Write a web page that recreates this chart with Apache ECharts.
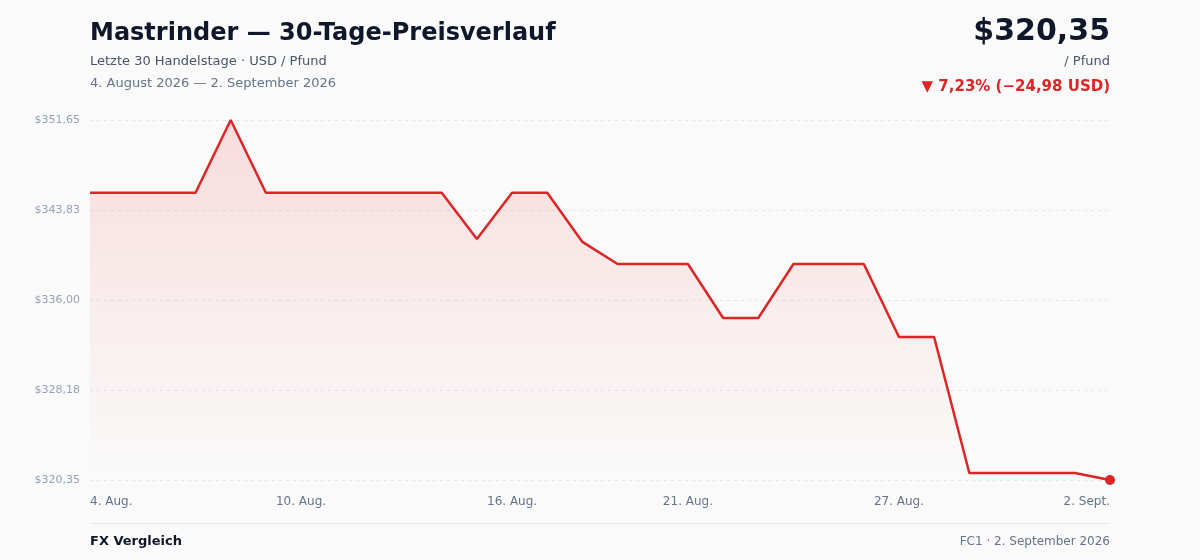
<!DOCTYPE html>
<html>
<head>
<meta charset="utf-8">
<script src="https://cdn.jsdelivr.net/npm/echarts@6/dist/echarts.min.js"></script>
<style>
html,body{margin:0;padding:0;background:#fafafa;}
#c{width:1200px;height:560px;}
</style>
</head>
<body>
<div id="c"></div>
<script>
const categories = ["4. Aug.","5. Aug.","6. Aug.","7. Aug.","8. Aug.","9. Aug.","10. Aug.","11. Aug.","12. Aug.","13. Aug.",
  "14. Aug.","15. Aug.","16. Aug.","17. Aug.","18. Aug.","19. Aug.","20. Aug.","21. Aug.","22. Aug.","23. Aug.",
  "24. Aug.","25. Aug.","26. Aug.","27. Aug.","28. Aug.","29. Aug.","30. Aug.","31. Aug.","1. Sept.","2. Sept."];
const prices = [345.33,345.33,345.33,345.33,351.65,345.33,345.33,345.33,345.33,345.33,
  345.33,341.30,345.33,345.33,341.05,339.13,339.13,339.13,334.44,334.44,
  339.13,339.13,339.13,332.78,332.78,320.96,320.96,320.96,320.96,320.35];
const shownLabelIdx = [0,6,12,17,23,29];
const yTickLabels = ["$320,35","$328,18","$336,00","$343,83","$351,65"];
const yMin = 320.35, yMax = 351.65;

const last = prices.length - 1;
const chart = echarts.init(document.getElementById('c'), null, {renderer:'canvas'});
const font = 'DejaVu Sans';
function t(text, pos, top, size, weight, color){
  return Object.assign({text:text, top:top, padding:0, textStyle:{fontFamily:font,fontSize:size,fontWeight:weight,color:color}}, pos);
}
chart.setOption({
  backgroundColor:'#fafafa',
  animation:false,
  title:[
    t('Mastrinder — 30-Tage-Preisverlauf', {left:90}, 22, 24, 'bold', '#0f172a'),
    t('Letzte 30 Handelstage · USD / Pfund', {left:90}, 55, 13, 'normal', '#475569'),
    t('4. August 2026 — 2. September 2026', {left:90}, 77, 13, 'normal', '#64748b'),
    t('$320,35', {right:90}, 17, 30, 'bold', '#0f172a'),
    t('/ Pfund', {right:90}, 55, 13, 'normal', '#475569'),
    t('▼ 7,23% (−24,98 USD)', {right:90}, 80, 15, 'bold', '#dc2626'),
    t('FX Vergleich', {left:90}, 535, 13, 'bold', '#0f172a'),
    t('FC1 · 2. September 2026', {right:90}, 536, 12, 'normal', '#64748b')
  ],
  graphic:[
    {type:'line', shape:{x1:90,y1:523.5,x2:1110,y2:523.5}, style:{stroke:'#e5e7eb',lineWidth:1}}
  ],
  grid:{left:90,right:90,top:120,bottom:80,containLabel:false},
  xAxis:{
    type:'category', data:categories, boundaryGap:false,
    axisLine:{show:false}, axisTick:{show:false}, splitLine:{show:false},
    axisLabel:{
      fontFamily:font, fontSize:12, color:'#64748b', margin:16,
      interval:(i)=>shownLabelIdx.indexOf(i)>=0,
      alignMinLabel:'left', alignMaxLabel:'right'
    }
  },
  yAxis:{
    type:'value', min:yMin, max:yMax, interval:(yMax-yMin)/4,
    axisLine:{show:false}, axisTick:{show:false},
    splitLine:{show:true, lineStyle:{color:'#e5e7eb', type:[3,4], width:1}},
    axisLabel:{fontFamily:font, fontSize:11, color:'#94a3b8', margin:10,
      formatter:(v,i)=>yTickLabels[i] !== undefined ? yTickLabels[i] : ''}
  },
  series:[
    {
      type:'line', data:prices, symbol:'none', smooth:false,
      lineStyle:{color:'#dc2626', width:2.5},
      areaStyle:{color:new echarts.graphic.LinearGradient(0,0,0,1,[
        {offset:0,color:'rgba(239,68,68,0.24)'},
        {offset:0.5,color:'rgba(239,68,68,0.11)'},
        {offset:1,color:'rgba(239,68,68,0.0)'}
      ])},
      z:2
    },
    {
      type:'scatter', data:prices.map((v,i)=> i===last ? v : '-'),
      symbol:'circle', symbolSize:10,
      itemStyle:{color:'#dc2626', opacity:1}, z:3
    }
  ]
});
</script>
</body>
</html>
